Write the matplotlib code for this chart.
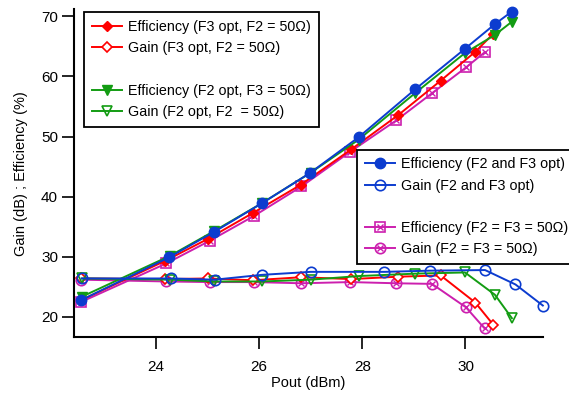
import matplotlib
matplotlib.use("Agg")
import matplotlib.pyplot as plt
from matplotlib.lines import Line2D
from matplotlib.legend_handler import HandlerTuple

plt.rcParams['font.family'] = ['Liberation Sans', 'DejaVu Sans']

# Pout (dBm) and values
x_f3 = [22.55, 24.17, 25.01, 25.88, 26.81, 27.79, 28.70, 29.52, 30.19, 30.54]
eff_f3 = [22.8, 29.3, 33.0, 37.3, 42.0, 47.9, 53.6, 59.3, 64.1, 67.1]
gain_f3 = [26.4, 26.3, 26.4, 26.1, 26.6, 26.3, 26.7, 26.9, 22.4, 18.7]

x_f2 = [22.57, 24.28, 25.13, 26.05, 27.0, 27.93, 29.02, 29.99, 30.57, 30.90]
eff_f2 = [23.4, 30.2, 34.3, 38.9, 44.0, 49.5, 57.2, 63.9, 66.9, 69.1]
gain_f2 = [26.4, 26.2, 25.9, 25.9, 26.2, 26.8, 27.2, 27.4, 23.7, 19.8]

x_both_eff = [22.55, 24.25, 25.12, 26.05, 26.98, 27.93, 29.03, 29.99, 30.57, 30.90]
eff_both = [22.8, 29.9, 34.1, 38.9, 43.9, 49.9, 57.9, 64.6, 68.7, 70.8]
x_both_gain = [22.56, 24.29, 25.14, 26.05, 27.0, 28.43, 29.32, 30.38, 30.97, 31.5]
gain_both = [26.4, 26.4, 26.2, 27.0, 27.5, 27.5, 27.7, 27.8, 25.4, 21.9]

x_50 = [22.55, 24.2, 25.05, 25.9, 26.82, 27.77, 28.66, 29.35, 30.01, 30.37]
eff_50 = [22.5, 28.9, 32.7, 36.8, 41.7, 47.5, 52.7, 57.2, 61.5, 64.0]
gain_50 = [26.2, 25.9, 25.8, 25.8, 25.6, 25.8, 25.6, 25.5, 21.6, 18.1]

red = '#ff0000'
green = '#139c13'
blue = '#0c3ccf'
mag = '#cc1fae'

fig = plt.figure(figsize=(5.69, 3.96), dpi=100)
ax = fig.add_axes([0.130, 0.148, 0.824, 0.829])

lw = 1.4
# F2 = F3 = 50 ohm (magenta)
m_eff, = ax.plot(x_50, eff_50, color=mag, lw=lw, marker='s', ms=6.5, mfc='none', mew=1.2, clip_on=False)
m_eff_x, = ax.plot(x_50, eff_50, ls='none', color=mag, marker='x', ms=4.5, mew=1.0, clip_on=False)
m_gain, = ax.plot(x_50, gain_50, color=mag, lw=lw, marker='o', ms=7.5, mfc='none', mew=1.2, clip_on=False)
m_gain_x, = ax.plot(x_50, gain_50, ls='none', color=mag, marker='x', ms=4.5, mew=1.0, clip_on=False)

# F3 opt (red)
r_eff, = ax.plot(x_f3, eff_f3, color=red, lw=lw, marker='D', ms=4.8, clip_on=False)
r_gain, = ax.plot(x_f3, gain_f3, color=red, lw=lw, marker='D', ms=4.8, mfc='white', mew=1.2, clip_on=False)

# F2 opt (green)
g_eff, = ax.plot(x_f2, eff_f2, color=green, lw=lw, marker='v', ms=7.5, clip_on=False)
g_gain, = ax.plot(x_f2, gain_f2, color=green, lw=lw, marker='v', ms=7.5, mfc='none', mew=1.2, clip_on=False)

# F2 and F3 opt (blue)
b_eff, = ax.plot(x_both_eff, eff_both, color=blue, lw=lw, marker='o', ms=7.5, clip_on=False)
b_gain, = ax.plot(x_both_gain, gain_both, color=blue, lw=lw, marker='o', ms=7.5, mfc='none', mew=1.2, clip_on=False)

ax.set_xlim(22.41, 31.5)
ax.set_ylim(16.6, 71.2)
ax.set_xticks([24, 26, 28, 30])
ax.set_yticks([20, 30, 40, 50, 60, 70])
ax.spines['top'].set_visible(False)
ax.spines['right'].set_visible(False)
for s in ['left', 'bottom']:
    ax.spines[s].set_linewidth(1.5)
ax.tick_params(direction='out', length=8.5, width=1.2, labelsize=11)
ax.tick_params(axis='x', pad=8)
ax.tick_params(axis='y', pad=3)
ax.set_xlabel('Pout (dBm)', fontsize=10.5, labelpad=1)
ax.set_ylabel('Gain (dB) ; Efficiency (%)', fontsize=10.5, labelpad=9)

blank = Line2D([], [], ls='none')
leg_kw = dict(fontsize=10.3, frameon=True, fancybox=False, framealpha=1, edgecolor='black',
              borderaxespad=0, handlelength=2.1, handletextpad=0.45, labelspacing=0.5,
              borderpad=0.55, handler_map={tuple: HandlerTuple(ndivide=1)})

leg1 = ax.legend([r_eff, r_gain, blank, g_eff, g_gain],
                 ['Efficiency (F3 opt, F2 = 50\u03a9)', 'Gain (F3 opt, F2 = 50\u03a9)', '',
                  'Efficiency (F2 opt, F3 = 50\u03a9)', 'Gain (F2 opt, F2  = 50\u03a9)'],
                 loc='upper left', bbox_to_anchor=(0.021, 0.99), **leg_kw)
leg1.get_frame().set_linewidth(1.3)
ax.add_artist(leg1)

leg2 = ax.legend([b_eff, b_gain, blank, (m_eff, m_eff_x), (m_gain, m_gain_x)],
                 ['Efficiency (F2 and F3 opt)', 'Gain (F2 and F3 opt)', '',
                  'Efficiency (F2 = F3 = 50\u03a9)', 'Gain (F2 = F3 = 50\u03a9)'],
                 loc='upper left', bbox_to_anchor=(0.603, 0.572), **leg_kw)
leg2.get_frame().set_linewidth(1.3)

fig.savefig('out.png', dpi=100)
